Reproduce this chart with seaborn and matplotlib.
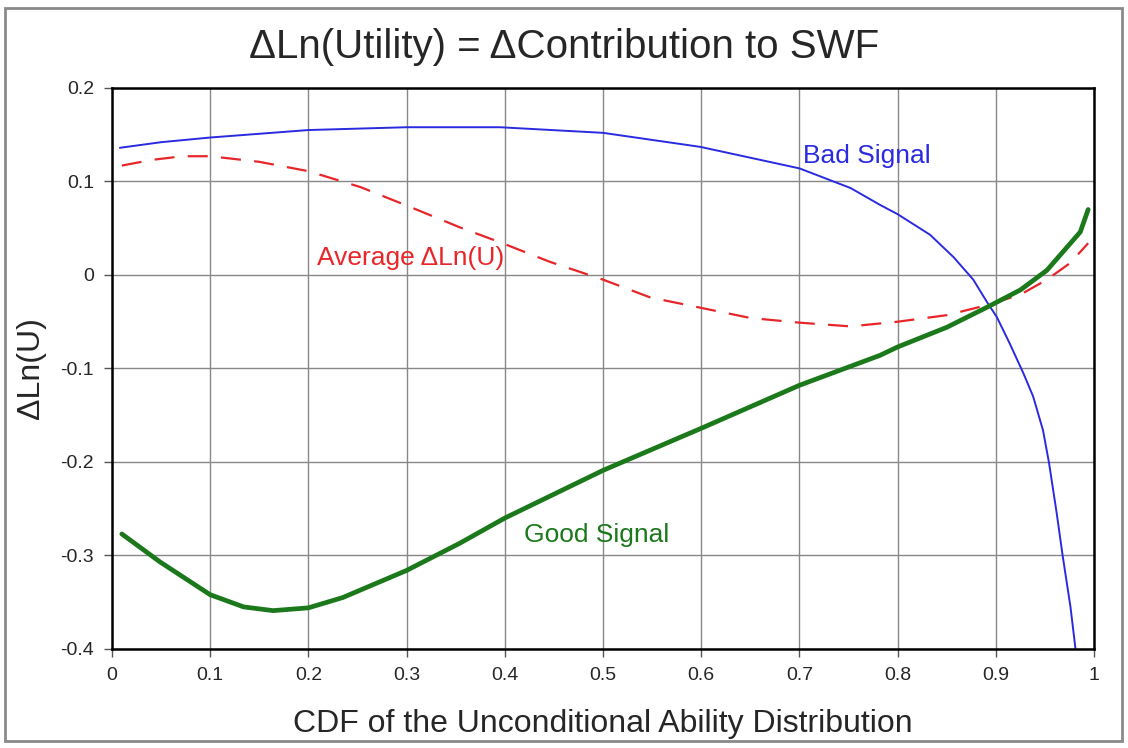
import numpy as np
import pandas as pd
import seaborn as sns
import matplotlib.pyplot as plt
from matplotlib.patches import Rectangle

# values
bad_x = [0.008, 0.05, 0.1, 0.2, 0.3, 0.395, 0.5, 0.599, 0.7, 0.752, 0.782, 0.8, 0.833, 0.857, 0.877, 0.891,
         0.901, 0.914, 0.928, 0.938, 0.948, 0.954, 0.962, 0.968, 0.976, 0.981]
bad_y = [0.136, 0.142, 0.147, 0.155, 0.158, 0.158, 0.152, 0.137, 0.114, 0.093, 0.075, 0.065, 0.043, 0.019, -0.005,
         -0.029, -0.045, -0.073, -0.105, -0.130, -0.166, -0.200, -0.255, -0.300, -0.355, -0.399]

avg_x = [0.01, 0.04, 0.072, 0.1, 0.15, 0.2, 0.253, 0.303, 0.354, 0.395, 0.446, 0.5, 0.548, 0.599, 0.65, 0.7,
         0.752, 0.8, 0.85, 0.892, 0.925, 0.952, 0.976, 0.994]
avg_y = [0.117, 0.123, 0.127, 0.127, 0.121, 0.111, 0.094, 0.073, 0.051, 0.035, 0.014, -0.005, -0.024, -0.035,
         -0.046, -0.051, -0.055, -0.050, -0.043, -0.032, -0.021, -0.005, 0.013, 0.034]

good_x = [0.01, 0.049, 0.1, 0.134, 0.164, 0.2, 0.235, 0.3, 0.354, 0.4, 0.5, 0.6, 0.7, 0.782, 0.8, 0.85, 0.892,
          0.925, 0.952, 0.986, 0.994]
good_y = [-0.277, -0.307, -0.342, -0.355, -0.359, -0.356, -0.345, -0.316, -0.287, -0.26, -0.209, -0.164, -0.118,
          -0.086, -0.077, -0.056, -0.034, -0.016, 0.005, 0.046, 0.070]

bad = pd.DataFrame({'cdf': bad_x, 'dlnu': bad_y})
avg = pd.DataFrame({'cdf': avg_x, 'dlnu': avg_y})
good = pd.DataFrame({'cdf': good_x, 'dlnu': good_y})

sns.set_style('white')
plt.rcParams['font.family'] = ['Liberation Sans', 'DejaVu Sans']

fig = plt.figure(figsize=(11.28, 7.48), dpi=100)
ax = fig.add_axes([0.0993, 0.1324, 0.8706, 0.75])

blue = '#2a2ae0'
red = '#e8262a'
green = '#1b781b'

sns.lineplot(bad, x='cdf', y='dlnu', color=blue, lw=1.4, ax=ax)
sns.lineplot(avg, x='cdf', y='dlnu', color=red, lw=1.6, ax=ax)
ax.lines[-1].set_dashes([9, 6])
sns.lineplot(good, x='cdf', y='dlnu', color=green, lw=3.4, ax=ax)

ax.set_xlim(0, 1)
ax.set_ylim(-0.4, 0.2)
ax.set_xticks(np.arange(0, 1.01, 0.1))
ax.set_yticks(np.arange(-0.4, 0.201, 0.1))
ax.set_xticklabels(['0', '0.1', '0.2', '0.3', '0.4', '0.5', '0.6', '0.7', '0.8', '0.9', '1'])
ax.set_yticklabels(['-0.4', '-0.3', '-0.2', '-0.1', '0', '0.1', '0.2'])
ax.grid(True, color='#888888', lw=1.0)
ax.tick_params(axis='both', labelsize=14, length=6, width=1, color='#555555', direction='out',
               bottom=True, left=True, pad=7)
for s in ax.spines.values():
    s.set_color('black')
    s.set_linewidth(1.8)

ax.set_xlabel('CDF of the Unconditional Ability Distribution', fontsize=23, labelpad=18)
ax.set_ylabel('ΔLn(U)', fontsize=23, labelpad=10)
fig.suptitle('ΔLn(Utility) = ΔContribution to SWF', fontsize=29, y=0.937, va='center')

ax.text(0.704, 0.127, 'Bad Signal', color=blue, fontsize=19, va='center')
ax.text(0.209, 0.018, 'Average ΔLn(U)', color=red, fontsize=19, va='center')
ax.text(0.42, -0.278, 'Good Signal', color=green, fontsize=19, va='center')

# grey frame around the whole picture
fig.patches.append(Rectangle((5 / 1128, 7 / 748), 1117 / 1128, 733 / 748, transform=fig.transFigure,
                             fill=False, edgecolor='#8a8a8a', lw=2))

fig.savefig('out.png', dpi=100)
